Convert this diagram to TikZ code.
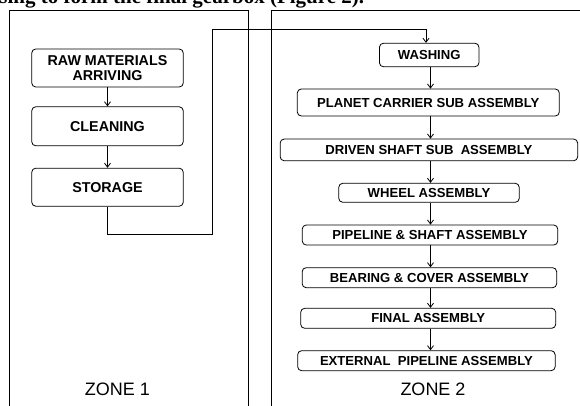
\documentclass[tikz,border=0pt]{standalone}
\usepackage{fontspec}
\setmainfont{Liberation Sans}
\newfontfamily\titleserif{Liberation Serif}
\usetikzlibrary{arrows.meta,calc}
\begin{document}
\begin{tikzpicture}[x=1pt,y=1pt,
  line width=0.8pt,
  stepbox/.style={draw, rounded corners=4pt, inner sep=0pt, align=center,
    font=\fontsize{13.1}{15}\selectfont\bfseries},
  bigstep/.style={stepbox, font=\fontsize{14.3}{15.5}\selectfont\bfseries},
  zonebox/.style={draw, inner sep=0pt, anchor=north west},
  zonelabel/.style={font=\fontsize{18}{20}\selectfont, anchor=base},
  flow/.style={-{Straight Barb[length=4pt,width=6pt]}}
]
\useasboundingbox (0,0) rectangle (580,-406);
\clip (0,0) rectangle (580,-406);
% cut-off caption text above the figure
\node[anchor=base west, inner sep=0pt, font=\titleserif\fontsize{21}{24}\selectfont\bfseries] (caption) at (-1,-4) {sing to form the final gearbox (Figure 2).};
% zones
\node[zonebox, minimum width=238.5pt, minimum height=420pt] (zone1) at (9,-10) {};
\node[zonebox, minimum width=330pt, minimum height=420pt] (zone2) at (270.5,-10) {};
\node[zonelabel] (z1lab) at (117.5,-395) {ZONE 1};
\node[zonelabel] (z2lab) at (433,-395.5) {ZONE 2};
% zone 1 steps
\node[bigstep, minimum width=151.5pt, minimum height=38pt] (raw) at (107.5,-68) {RAW MATERIALS\\ARRIVING};
\node[bigstep, minimum width=151.5pt, minimum height=39pt] (clean) at (107.5,-126.3) {CLEANING};
\node[bigstep, minimum width=151.5pt, minimum height=38pt] (store) at (107.5,-187.2) {STORAGE};
% zone 2 steps
\node[stepbox, minimum width=99.5pt, minimum height=23.5pt] (wash) at (429.2,-55) {WASHING};
\node[stepbox, minimum width=262pt, minimum height=27pt] (planet) at (428.3,-102.5) {PLANET CARRIER SUB ASSEMBLY};
\node[stepbox, minimum width=297.5pt, minimum height=21.7pt] (driven) at (428.9,-149.9) {DRIVEN SHAFT SUB\ \ ASSEMBLY};
\node[stepbox, minimum width=180.5pt, minimum height=19pt] (wheel) at (429,-192.8) {WHEEL ASSEMBLY};
\node[stepbox, minimum width=255.5pt, minimum height=20pt] (pipe) at (430,-235) {PIPELINE \& SHAFT ASSEMBLY};
\node[stepbox, minimum width=254.5pt, minimum height=20pt] (bear) at (429.4,-277.7) {BEARING \& COVER ASSEMBLY};
\node[stepbox, minimum width=255pt, minimum height=20pt] (final) at (428.2,-318.3) {FINAL ASSEMBLY};
\node[stepbox, minimum width=257.5pt, minimum height=20pt] (ext) at (426.4,-360.7) {EXTERNAL\ \ PIPELINE ASSEMBLY};
% zone 1 arrows
\draw[flow] (raw.south) -- (clean.north);
\draw[flow] (clean.south) -- (store.north);
% transfer connector
\coordinate (c1) at (107.5,-234.5);
\coordinate (c2) at (212,-234.5);
\coordinate (c3) at (212,-29.3);
\coordinate (c4) at (426,-29.3);
\draw[flow] (store.south) -- (c1) -- (c2) -- (c3) -- (c4) -- (c4 |- wash.north);
% zone 2 arrows
\coordinate (ax) at (430.5,0);
\draw[flow] (ax |- wash.south) -- (ax |- planet.north);
\draw[flow] (ax |- planet.south) -- (ax |- driven.north);
\draw[flow] (ax |- driven.south) -- (ax |- wheel.north);
\draw[flow] (ax |- wheel.south) -- (ax |- pipe.north);
\draw[flow] (ax |- pipe.south) -- (ax |- bear.north);
\draw[flow] (ax |- bear.south) -- (ax |- final.north);
\draw[flow] (ax |- final.south) -- (ax |- ext.north);
\end{tikzpicture}
\end{document}
